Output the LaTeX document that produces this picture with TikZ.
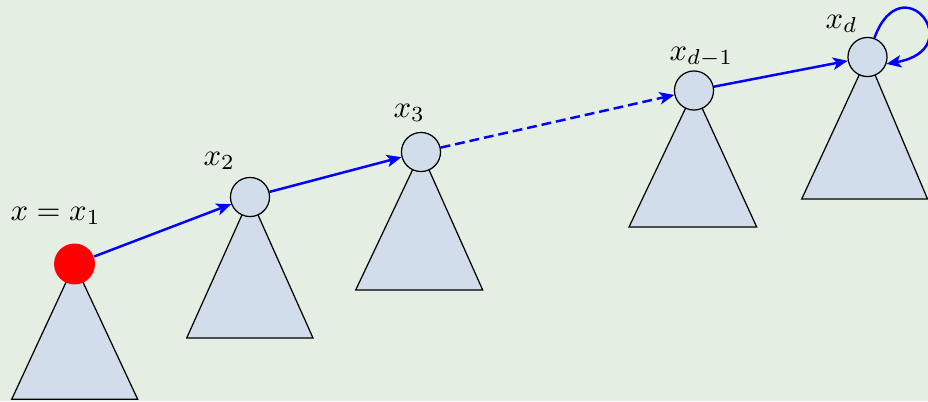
\documentclass[tikz,border=0pt]{standalone}
\usetikzlibrary{arrows.meta}
\definecolor{bg}{HTML}{E4EEE3}
\definecolor{tri}{HTML}{D1DDEB}
\begin{document}
\begin{tikzpicture}[x=0.325pt,y=0.325pt,
  treebox/.style={draw=black, line width=0.4pt, fill=tri, line join=miter},
  vert/.style={circle, draw=black, line width=0.4pt, fill=tri, minimum size=12.7pt, inner sep=0pt},
  rootvert/.style={circle, fill=red, minimum size=13.3pt, inner sep=0pt},
  lab/.style={inner sep=0pt, anchor=base west},
  conn/.style={draw=blue, line width=0.8pt, -{Stealth[length=4.8pt,width=4pt,inset=1.2pt]}},
  dashconn/.style={conn, dash pattern=on 3.2pt off 1.6pt}
]
\fill[bg] (0,0) rectangle (928,401);
\useasboundingbox (0,0) rectangle (928,401);

% subtrees
\draw[treebox] (74.5,137) -- (11.7,1.7) -- (137.7,1.7) -- cycle;
\draw[treebox] (250,204) -- (186.7,63) -- (313,63) -- cycle;
\draw[treebox] (421,249) -- (355.7,111) -- (482.7,111) -- cycle;
\draw[treebox] (694,310.5) -- (629,174) -- (756.7,174) -- cycle;
\draw[treebox] (867.5,344) -- (801.7,202) -- (927.5,202) -- cycle;

% vertices
\node[rootvert] (n1) at (74.5,137) {};
\node[vert] (n2) at (250,204) {};
\node[vert] (n3) at (421,249) {};
\node[vert] (n4) at (694,310.5) {};
\node[vert] (n5) at (867.5,344) {};

% labels
\node[lab] (l1) at (10,181) {$x=x_1$};
\node[lab] (l2) at (203,236) {$x_2$};
\node[lab] (l3) at (393,284) {$x_3$};
\node[lab] (l4) at (669,341) {$x_{d-1}$};
\node[lab] (l5) at (825,373) {$x_d$};

% connectors
\draw[conn] (n1) -- (n2);
\draw[conn] (n2) -- (n3);
\draw[dashconn] (n3) -- (n4);
\draw[conn] (n4) -- (n5);
\draw[conn] (n5.70) .. controls +(70:80) and +(10:85) .. (n5.-20);
\end{tikzpicture}
\end{document}
